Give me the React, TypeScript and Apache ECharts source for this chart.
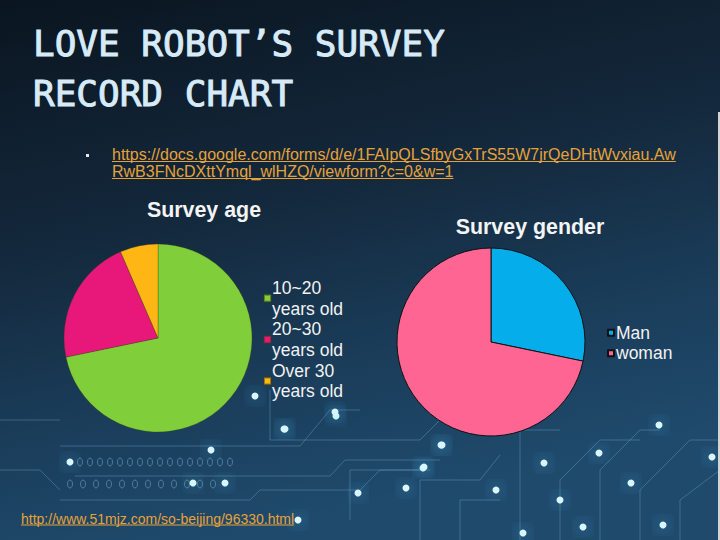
import React, { useEffect, useRef } from "react";
import * as echarts from "echarts";

const ageCategories = ["10~20\nyears old", "20~30\nyears old", "Over 30\nyears old"];
const ageValues = [33, 10, 3];
const ageColors = ["#80cf3a", "#e8187a", "#fdb614"];
const genderCategories = ["Man", "woman"];
const genderValues = [13, 33];
const genderColors = ["#05aeea", "#fe6593"];
const titleLines = ["LOVE ROBOT\u2019S SURVEY", "RECORD CHART"];
const formUrlLines = [
  "https://docs.google.com/forms/d/e/1FAIpQLSfbyGxTrS55W7jrQeDHtWvxiau.Aw",
  "RwB3FNcDXttYmql_wlHZQ/viewform?c=0&w=1",
];
const sourceUrl = "http://www.51mjz.com/so-beijing/96330.html";

// decorative circuit-board texture (background only)
const glowDots = [
  [285, 429], [211, 450], [70, 462], [193, 483], [225, 483], [423, 468], [406, 488],
  [358, 493], [496, 490], [544, 463], [599, 453], [631, 483], [659, 425], [712, 457],
  [663, 525], [583, 527], [523, 533], [441, 445], [298, 520], [255, 396], [336, 416],
  [284, 429], [424, 467], [442, 445], [335, 412], [560, 500], [470, 420],
];
const traces = [
  [[60, 446], [300, 446], [330, 410], [360, 410]],
  [[75, 476], [330, 476], [345, 460], [440, 460]],
  [[60, 500], [250, 500], [260, 490], [360, 490], [380, 470], [430, 470]],
  [[270, 390], [270, 440], [420, 440], [440, 420]],
  [[350, 520], [350, 470], [420, 470]],
  [[420, 540], [420, 480], [480, 480], [500, 455]],
  [[520, 540], [520, 430], [560, 430]],
  [[600, 540], [600, 470], [640, 430], [660, 430]],
  [[640, 540], [640, 490], [690, 440], [720, 440]],
  [[680, 540], [680, 500], [720, 470]],
  [[460, 540], [460, 500], [500, 500]],
  [[0, 470], [40, 470], [60, 490]],
  [[0, 420], [60, 420]],
  [[560, 540], [560, 480], [600, 440], [640, 440]],
];

function textWidth(text: string, font: string): number {
  const c = document.createElement("canvas").getContext("2d");
  if (!c) return text.length * 7;
  c.font = font;
  return c.measureText(text).width;
}

export default function App() {
  const ref = useRef<HTMLDivElement>(null);
  useEffect(() => {
    if (!ref.current) return;
    const chart = echarts.init(ref.current, undefined, { renderer: "svg" });

    const urlFont = "16px 'Liberation Sans', Arial, sans-serif";
    const srcFont = "14px 'Liberation Sans', Arial, sans-serif";
    const urlColor = "#e6a23a";

    const graphics: any[] = [];
    graphics.push({
      type: "rect",
      z: -10,
      silent: true,
      shape: { x: 0, y: 0, width: 720, height: 540 },
      style: {
        fill: new echarts.graphic.LinearGradient(0, 0, 0.3, 1, [
          { offset: 0, color: "#0a1520" },
          { offset: 0.45, color: "#14293d" },
          { offset: 0.75, color: "#1a3d5a" },
          { offset: 1, color: "#1f4a6c" },
        ]),
      },
    });
    traces.forEach((pts) =>
      graphics.push({
        type: "polyline",
        z: -9,
        silent: true,
        shape: { points: pts },
        style: { stroke: "rgba(120,180,220,0.35)", lineWidth: 1, fill: "none" },
      })
    );
    for (let i = 0; i < 16; i++) {
      graphics.push({
        type: "ellipse",
        z: -9,
        silent: true,
        shape: { cx: 80 + i * 10, cy: 462, rx: 2.5, ry: 4 },
        style: { stroke: "rgba(140,190,225,0.45)", fill: "none", lineWidth: 1 },
      });
      if (i < 12)
        graphics.push({
          type: "ellipse",
          z: -9,
          silent: true,
          shape: { cx: 70 + i * 13, cy: 484, rx: 2.5, ry: 4 },
          style: { stroke: "rgba(140,190,225,0.45)", fill: "none", lineWidth: 1 },
        });
    }
    glowDots.forEach(([x, y]) =>
      graphics.push({
        type: "circle",
        z: -8,
        silent: true,
        shape: { cx: x, cy: y, r: 3.5 },
        style: { fill: "#d8f6ff", shadowBlur: 16, shadowColor: "#48c4ff" },
      })
    );
    graphics.push({
      type: "rect",
      z: -7,
      silent: true,
      shape: { x: 718, y: 112, width: 2, height: 428 },
      style: { fill: "#d4d4d4" },
    });

    titleLines.forEach((t, i) =>
      graphics.push({
        type: "text",
        x: 33,
        y: 25 + i * 50,
        style: {
          text: t,
          fill: "#d6eaf8",
          stroke: "#d6eaf8",
          lineWidth: 1,
          font: "36px 'DejaVu Sans Mono', monospace",
          verticalAlign: "top",
        },
      })
    );

    graphics.push({
      type: "rect",
      shape: { x: 86, y: 154, width: 3, height: 3 },
      style: { fill: "#e8e8e8" },
    });
    formUrlLines.forEach((t, i) => {
      const y = 146.5 + i * 17;
      const w = textWidth(t, urlFont);
      graphics.push({
        type: "text",
        x: 112,
        y,
        style: { text: t, fill: urlColor, font: urlFont, verticalAlign: "top" },
      });
      graphics.push({
        type: "line",
        shape: { x1: 112, y1: y + 15, x2: 112 + w, y2: y + 15 },
        style: { stroke: urlColor, lineWidth: 1 },
      });
    });
    {
      const y = 511.5;
      const w = textWidth(sourceUrl, srcFont);
      graphics.push({
        type: "text",
        x: 21,
        y,
        style: { text: sourceUrl, fill: urlColor, font: srcFont, verticalAlign: "top" },
      });
      graphics.push({
        type: "line",
        shape: { x1: 21, y1: y + 13.5, x2: 21 + w, y2: y + 13.5 },
        style: { stroke: urlColor, lineWidth: 1 },
      });
    }
    graphics.push({
      type: "text",
      x: 204,
      y: 199,
      style: {
        text: "Survey age",
        fill: "#f4f4f4",
        font: "bold 21.4px 'Liberation Sans', Arial, sans-serif",
        textAlign: "center",
        verticalAlign: "top",
      },
    });
    graphics.push({
      type: "text",
      x: 530,
      y: 216,
      style: {
        text: "Survey gender",
        fill: "#f4f4f4",
        font: "bold 21.4px 'Liberation Sans', Arial, sans-serif",
        textAlign: "center",
        verticalAlign: "top",
      },
    });

    const option: any = {
      animation: false,
      backgroundColor: "transparent",
      graphic: { elements: graphics },
      legend: [
        {
          orient: "vertical",
          left: 263,
          top: 277.5,
          padding: 0,
          itemGap: 0,
          itemWidth: 7,
          itemHeight: 7,
          icon: "rect",
          selectedMode: false,
          data: ageCategories,
          textStyle: {
            color: "#f2f2f2",
            fontSize: 17.5,
            lineHeight: 20.7,
            fontFamily: "'Liberation Sans', Arial, sans-serif",
            padding: [0, 0, 0, -4],
          },
        },
        {
          orient: "vertical",
          left: 607,
          top: 322.5,
          padding: 0,
          itemGap: 0,
          itemWidth: 6,
          itemHeight: 6,
          icon: "rect",
          selectedMode: false,
          data: genderCategories,
          textStyle: {
            color: "#f2f2f2",
            fontSize: 17.5,
            lineHeight: 20.5,
            fontFamily: "'Liberation Sans', Arial, sans-serif",
            padding: [0, 0, 0, -3],
          },
        },
      ],
      series: [
        {
          type: "pie",
          center: [158, 338],
          radius: 94,
          startAngle: 90,
          clockwise: true,
          label: { show: false },
          labelLine: { show: false },
          emphasis: { disabled: true },
          itemStyle: { borderColor: "rgba(60,60,20,0.5)", borderWidth: 0.6 },
          data: ageCategories.map((n, i) => ({ name: n, value: ageValues[i], itemStyle: { color: ageColors[i] } })),
        },
        {
          type: "pie",
          center: [491, 342],
          radius: 94,
          startAngle: 90,
          clockwise: true,
          label: { show: false },
          labelLine: { show: false },
          emphasis: { disabled: true },
          itemStyle: { borderColor: "#111", borderWidth: 1 },
          data: genderCategories.map((n, i) => ({ name: n, value: genderValues[i], itemStyle: { color: genderColors[i] } })),
        },
      ],
    };
    chart.setOption(option);
    return () => chart.dispose();
  }, []);
  return (
    <div
      ref={ref}
      style={{ position: "fixed", left: 0, top: 0, width: 720, height: 540, background: "#0f1e2e" }}
    />
  );
}
